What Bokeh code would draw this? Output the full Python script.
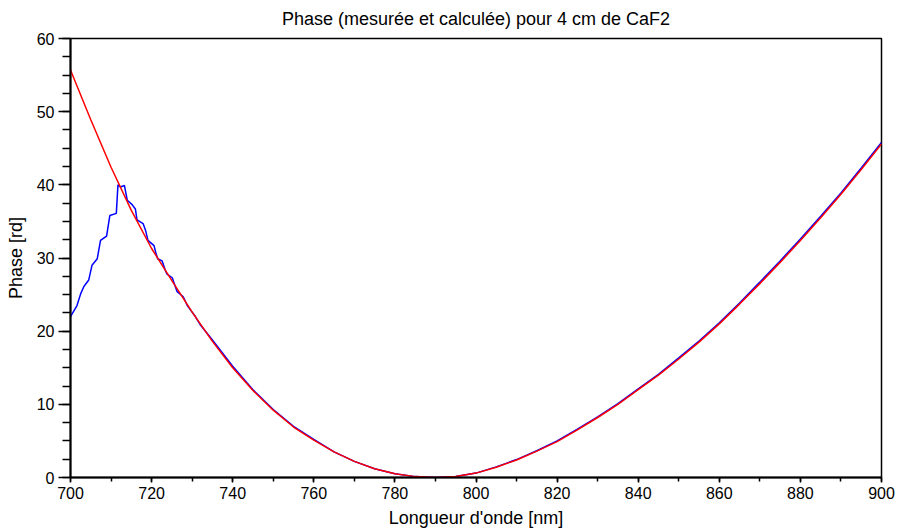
from bokeh.plotting import figure
from bokeh.embed import file_html
from bokeh.resources import INLINE
from bokeh.models import Range1d, FixedTicker

# Calculated phase (red)
lam_calc = [700, 705, 710, 715, 720, 725, 730, 735, 740, 745, 750, 755, 760, 765, 770,
            775, 780, 785, 790, 795, 800, 805, 810, 815, 820, 825, 830, 835, 840, 845,
            850, 855, 860, 865, 870, 875, 880, 885, 890, 895, 900]
phase_calc = [55.7, 48.9, 42.4, 36.5, 31.3, 26.9, 22.6, 18.6, 15.0, 11.9, 9.2, 6.9, 5.1, 3.5, 2.2,
              1.2, 0.5, 0.12, 0.0, 0.15, 0.6, 1.4, 2.4, 3.6, 4.9, 6.5, 8.2, 10.0, 12.0, 14.0,
              16.2, 18.5, 21.0, 23.7, 26.5, 29.4, 32.4, 35.5, 38.7, 42.1, 45.6]

# Measured phase (blue)
lam_meas = [700.0, 701.6, 702.5, 703.3, 704.5, 705.3, 706.6, 707.4, 708.9, 709.7, 711.3, 711.7,
            712.3, 713.3, 714.0, 715.2, 716.0, 716.4, 717.9, 718.5, 719.1, 720.6, 721.0, 721.5,
            722.6, 723.4, 723.8, 725.1, 725.9, 726.3, 727.8, 728.8, 730.0, 730.8, 732.1,
            735, 740, 745, 750, 755, 760, 765, 770, 775, 780, 785, 790, 795, 800, 805, 810,
            815, 820, 825, 830, 835, 840, 845, 850, 855, 860, 865, 870, 875, 880, 885, 890,
            895, 900]
phase_meas = [22.0, 23.5, 25.1, 26.1, 27.0, 29.0, 29.9, 32.4, 33.0, 35.8, 36.1, 40.0,
              39.7, 39.9, 37.9, 37.3, 36.7, 35.2, 34.7, 33.8, 32.4, 31.7, 30.8, 29.9,
              29.6, 28.3, 27.8, 27.3, 26.0, 25.4, 24.7, 23.5, 22.6, 22.0, 20.8,
              18.8, 15.2, 12.0, 9.3, 7.0, 5.2, 3.5, 2.2, 1.2, 0.5, 0.12, 0.0, 0.15, 0.6, 1.45, 2.45,
              3.65, 5.0, 6.6, 8.3, 10.1, 12.1, 14.1, 16.35, 18.65, 21.15, 23.85, 26.7, 29.6, 32.6, 35.7, 38.9,
              42.3, 45.8]

x_ticks = [700, 720, 740, 760, 780, 800, 820, 840, 860, 880, 900]
y_ticks = [0, 10, 20, 30, 40, 50, 60]

FONT = "Liberation Sans"

p = figure(width=897, height=530, output_backend="svg", toolbar_location=None,
           x_range=Range1d(700, 900), y_range=Range1d(0, 60),
           title="Phase (mesurée et calculée) pour 4 cm de CaF2",
           x_axis_label="Longueur d'onde [nm]", y_axis_label="Phase [rd]",
           min_border_left=70, min_border_right=16, min_border_top=38, min_border_bottom=52)

p.title.align = "center"
p.title.vertical_align = "top"
p.title.text_font = FONT
p.title.text_font_size = "18px"
p.title.text_font_style = "normal"
p.title.text_color = "black"
p.title.standoff = 15

p.grid.visible = False
p.outline_line_color = "black"
p.outline_line_width = 1.5
p.background_fill_color = "white"
p.border_fill_color = "white"

p.xaxis.ticker = FixedTicker(ticks=x_ticks, minor_ticks=list(range(700, 901, 10)))
p.yaxis.ticker = FixedTicker(ticks=y_ticks, minor_ticks=[v * 2.5 for v in range(0, 25)])

for ax in (p.xaxis[0], p.yaxis[0]):
    ax.axis_line_color = "black"
    ax.axis_line_width = 2
    ax.major_tick_line_color = "black"
    ax.minor_tick_line_color = "black"
    ax.major_tick_line_width = 1.5
    ax.minor_tick_line_width = 1.5
    ax.major_tick_in = 0
    ax.minor_tick_in = 0
    ax.major_label_text_font = FONT
    ax.major_label_text_font_size = "16px"
    ax.major_label_text_color = "black"
    ax.axis_label_text_font = FONT
    ax.axis_label_text_font_size = "18px"
    ax.axis_label_text_font_style = "normal"
    ax.axis_label_text_color = "black"

p.xaxis.major_tick_out = 5
p.xaxis.minor_tick_out = 4
p.xaxis.major_label_standoff = 4
p.xaxis.axis_label_standoff = 6
p.yaxis.major_tick_out = 12
p.yaxis.minor_tick_out = 8
p.yaxis.major_label_standoff = 4
p.yaxis.axis_label_standoff = 8

p.line(lam_meas, phase_meas, line_color="#0000ff", line_width=1.5)
p.line(lam_calc, phase_calc, line_color="#ff0000", line_width=1.5)

open("out.html", "w").write(file_html(p, INLINE))
